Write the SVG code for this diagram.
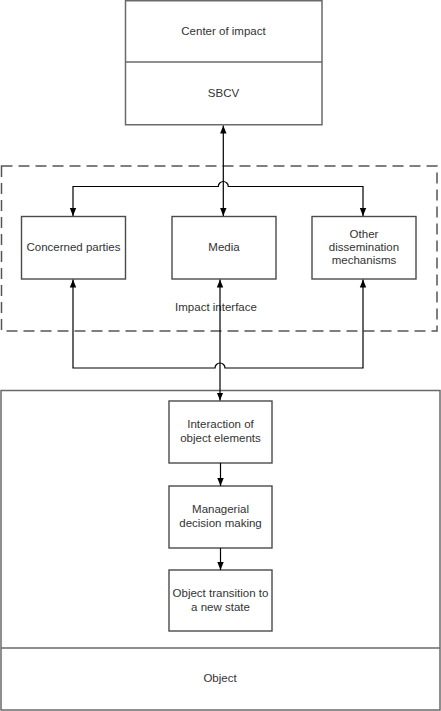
<svg xmlns="http://www.w3.org/2000/svg" width="441" height="711" viewBox="0 0 441 711">
<style>
.box{fill:#fff;stroke:#4a4a4a;stroke-width:1.4}
.outer{fill:#fff;stroke:#6a6a6a;stroke-width:1.5}
.dash{fill:none;stroke:#555;stroke-width:1.5;stroke-dasharray:11 6}
.t{font-family:"Liberation Sans",Arial,sans-serif;font-size:11.5px;fill:#333;text-anchor:middle}
.c{fill:none;stroke:#000;stroke-width:1.2}
</style>
<defs>
<marker id="ah" viewBox="0 0 10 10" refX="10" refY="5" markerWidth="8" markerHeight="8" markerUnits="userSpaceOnUse" orient="auto-start-reverse">
<path d="M0,1 L10,5 L0,9 z" fill="#000"/>
</marker>
</defs>
<rect width="441" height="711" fill="#fff"/>
<g id="impact-interface">
<rect class="dash" x="1.5" y="166" width="435.5" height="165"/>
<text class="t" x="216" y="311">Impact interface</text>
</g>
<g id="center">
<rect class="outer" x="125.5" y="0.75" width="196.5" height="124"/>
<line x1="125.5" y1="62" x2="322" y2="62" stroke="#6a6a6a" stroke-width="1.5"/>
<text class="t" x="223.5" y="35">Center of impact</text>
<text class="t" x="223.5" y="97">SBCV</text>
</g>
<g id="object">
<rect class="outer" x="1" y="390.5" width="439" height="319.5"/>
<line x1="1" y1="648" x2="440" y2="648" stroke="#6a6a6a" stroke-width="1.5"/>
<text class="t" x="220" y="682">Object</text>
</g>
<g id="concerned">
<rect class="box" x="21.5" y="216.5" width="104" height="62.5"/>
<text class="t" x="73.5" y="251">Concerned parties</text>
</g>
<g id="media">
<rect class="box" x="172" y="216.5" width="104" height="62.5"/>
<text class="t" x="224" y="251">Media</text>
</g>
<g id="other">
<rect class="box" x="312" y="216.5" width="104" height="62.5"/>
<text class="t" x="364" y="238">Other</text>
<text class="t" x="364" y="251">dissemination</text>
<text class="t" x="364" y="264">mechanisms</text>
</g>
<g id="interaction">
<rect class="box" x="169" y="401" width="103" height="62"/>
<text class="t" x="220.5" y="428">Interaction of</text>
<text class="t" x="220.5" y="442">object elements</text>
</g>
<g id="managerial">
<rect class="box" x="169" y="486" width="103" height="62"/>
<text class="t" x="220.5" y="513">Managerial</text>
<text class="t" x="220.5" y="527">decision making</text>
</g>
<g id="transition">
<rect class="box" x="169" y="570" width="103" height="61"/>
<text class="t" x="220.5" y="597">Object transition to</text>
<text class="t" x="220.5" y="611">a new state</text>
</g>
<g id="connectors">
<path class="c" d="M223.3,125.5 V216" marker-start="url(#ah)" marker-end="url(#ah)"/>
<path class="c" d="M73,216 V186.5 H218.3 A5,5 0 0 1 228.3,186.5 H363 V216" marker-start="url(#ah)" marker-end="url(#ah)"/>
<path class="c" d="M220,279.5 V400.5" marker-start="url(#ah)" marker-end="url(#ah)"/>
<path class="c" d="M73,279.5 V368 H215 A5,5 0 0 1 225,368 H363 V279.5" marker-start="url(#ah)" marker-end="url(#ah)"/>
<path class="c" d="M220.5,463 V486" marker-end="url(#ah)"/>
<path class="c" d="M220.5,548 V570" marker-end="url(#ah)"/>
</g>
</svg>
